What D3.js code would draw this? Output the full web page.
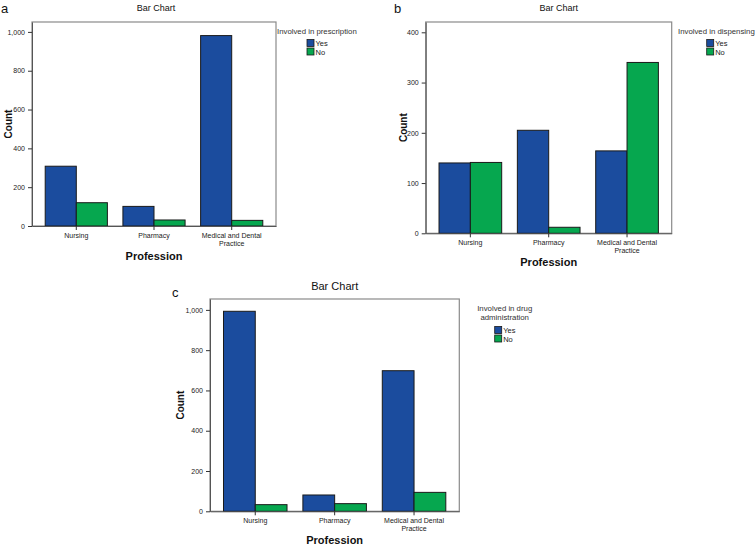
<!DOCTYPE html>
<html><head><meta charset="utf-8">
<script src="https://cdn.jsdelivr.net/npm/d3@7"></script>
<style>body{margin:0;background:#fff}svg{display:block}text{font-family:"Liberation Sans",Arial,sans-serif}</style>
</head><body>
<svg id="c" width="755" height="546"></svg>
<script>
const categories = ["Nursing", "Pharmacy", "Medical and Dental Practice"];
const groups = ["Yes", "No"];
const prescriptionYes = [308, 101, 981];
const prescriptionNo = [120, 31, 29];
const dispensingYes = [140, 205, 164];
const dispensingNo = [141, 12, 340];
const administrationYes = [993, 81, 698];
const administrationNo = [33, 38, 94];
const ticksA = [0, 200, 400, 600, 800, 1000];
const ticksB = [0, 100, 200, 300, 400];
const ticksC = [0, 200, 400, 600, 800, 1000];

const colors = {Yes: "#1b4c9e", No: "#06a74f"};
const svg = d3.select("#c");

function panel(o) {
  const g = svg.append("g");
  const x = d3.scaleBand().domain(categories).range([o.x0, o.x1]).paddingInner(0.2).paddingOuter(0.17);
  const xs = d3.scaleBand().domain(groups).range([0, x.bandwidth()]);
  const y = d3.scaleLinear().domain([0, o.max]).range([o.yb, o.yt]);
  g.append("rect").attr("x", o.x0).attr("y", o.yt).attr("width", o.x1 - o.x0).attr("height", o.yb - o.yt)
    .attr("fill", "none").attr("stroke", "#8a8a8a").attr("stroke-width", 1.2);
  const data = categories.map((c, i) => ({c, vals: [{k: "Yes", v: o.yes[i]}, {k: "No", v: o.no[i]}]}));
  g.selectAll("g.cat").data(data).join("g").attr("transform", d => `translate(${x(d.c)},0)`)
    .selectAll("rect").data(d => d.vals).join("rect")
    .attr("x", d => xs(d.k)).attr("width", xs.bandwidth())
    .attr("y", d => y(d.v)).attr("height", d => y(0) - y(d.v))
    .attr("fill", d => colors[d.k]).attr("stroke", "#1a1a1a").attr("stroke-width", 1);
  const ya = g.append("g").attr("transform", `translate(${o.x0},0)`)
    .call(d3.axisLeft(y).tickValues(o.ticks).tickSize(4).tickSizeOuter(0).tickFormat(d3.format(",")));
  ya.select(".domain").attr("stroke", "#555");
  ya.selectAll("line").attr("stroke", "#333");
  ya.selectAll("text").attr("font-size", 7).attr("fill", "#222");
  const xa = g.append("g").attr("transform", `translate(0,${o.yb})`)
    .call(d3.axisBottom(x).tickSize(4).tickSizeOuter(0).tickFormat(""));
  xa.select(".domain").attr("stroke", "#555");
  xa.selectAll("line").attr("stroke", "#333");
  categories.forEach(c => {
    const words = c === "Medical and Dental Practice" ? ["Medical and Dental", "Practice"] : [c];
    words.forEach((w, j) => {
      g.append("text").attr("x", x(c) + x.bandwidth() / 2).attr("y", o.yb + 12 + j * 8)
        .attr("text-anchor", "middle").attr("font-size", 7).attr("fill", "#222").text(w);
    });
  });
  g.append("text").attr("x", o.titleX).attr("y", o.titleY).attr("text-anchor", "middle")
    .attr("font-size", o.titleSize).attr("fill", "#111").text("Bar Chart");
  g.append("text").attr("x", o.letterX).attr("y", o.letterY).attr("font-size", 13).attr("fill", "#111").text(o.letter);
  g.append("text").attr("transform", `translate(${o.countX},${(o.yt + o.yb) / 2}) rotate(-90)`)
    .attr("text-anchor", "middle").attr("font-size", 10).attr("font-weight", "bold").attr("fill", "#111").text("Count");
  g.append("text").attr("x", (o.x0 + o.x1) / 2).attr("y", o.profY).attr("text-anchor", "middle")
    .attr("font-size", 11).attr("font-weight", "bold").attr("fill", "#111").text("Profession");
  o.legendTitle.forEach((t, j) => {
    g.append("text").attr("x", o.legX).attr("y", o.legY + j * 9).attr("text-anchor", o.legAnchor)
      .attr("font-size", 7.8).attr("fill", "#333").text(t);
  });
  groups.forEach((k, j) => {
    const yy = o.swY + j * 8.5;
    g.append("rect").attr("x", o.swX).attr("y", yy - 3.5).attr("width", 7).attr("height", 7)
      .attr("fill", colors[k]).attr("stroke", "#1a1a1a").attr("stroke-width", 0.8);
    g.append("text").attr("x", o.swX + 8.5).attr("y", yy + 3).attr("font-size", 7.5).attr("fill", "#222").text(k);
  });
}

panel({x0: 32, x1: 276, yt: 22, yb: 226, max: 1051, ticks: ticksA, yes: prescriptionYes, no: prescriptionNo,
  titleX: 156, titleY: 11, titleSize: 9, letter: "a", letterX: 1, letterY: 13, countX: 12, profY: 260,
  legendTitle: ["Involved in prescription"], legX: 277, legY: 34, legAnchor: "start", swX: 307, swY: 43});
panel({x0: 425.7, x1: 671.7, yt: 22, yb: 233.3, max: 420.5, ticks: ticksB, yes: dispensingYes, no: dispensingNo,
  titleX: 558.7, titleY: 11, titleSize: 9, letter: "b", letterX: 394, letterY: 13, countX: 407, profY: 266,
  legendTitle: ["Involved in dispensing"], legX: 678, legY: 34, legAnchor: "start", swX: 706.7, swY: 43});
panel({x0: 210, x1: 459.3, yt: 299, yb: 511.3, max: 1054, ticks: ticksC, yes: administrationYes, no: administrationNo,
  titleX: 334.7, titleY: 290, titleSize: 11, letter: "c", letterX: 172, letterY: 297, countX: 184, profY: 544,
  legendTitle: ["Involved in drug", "administration"], legX: 504.7, legY: 311, legAnchor: "middle", swX: 494.7, swY: 330});
</script>
</body></html>
